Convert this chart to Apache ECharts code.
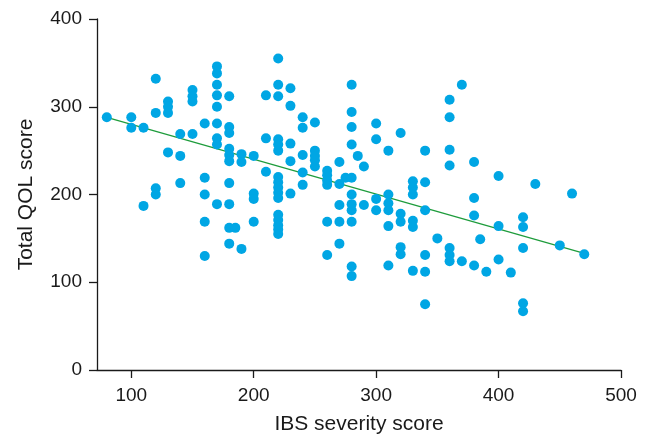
<!DOCTYPE html>
<html>
<head>
  <meta charset="utf-8">
  <title>IBS severity vs Total QOL</title>
  <script src="https://cdn.jsdelivr.net/npm/echarts@6/dist/echarts.min.js"></script>
  <style>
    html, body { margin: 0; padding: 0; background: #fff; }
    #chart { width: 649px; height: 438px; }
  </style>
</head>
<body>
<div id="chart"></div>
<script>
  // IBS severity score (x) and total QOL score (y)
  const ibsScore = [
    80,
    100, 100,
    110, 110,
    120, 120, 120, 120,
    130, 130, 130, 130,
    140, 140, 140,
    150, 150, 150, 150,
    160, 160, 160, 160, 160,
    170, 170, 170, 170, 170, 170, 170, 170, 170,
    180, 180, 180, 180, 180, 180, 180, 180, 180, 180,
    185,
    190, 190, 190,
    200, 200, 200, 200,
    210, 210, 210,
    220, 220, 220, 220, 220, 220, 220, 220, 220, 220, 220, 220, 220, 220, 220, 220,
    230, 230, 230, 230, 230,
    240, 240, 240, 240, 240,
    250, 250, 250, 250, 250,
    260, 260, 260, 260, 260, 260,
    270, 270, 270, 270, 270,
    275,
    280, 280, 280, 280, 280, 280, 280, 280, 280, 280, 280,
    285,
    290, 290,
    300, 300, 300, 300,
    310, 310, 310, 310, 310, 310,
    320, 320, 320, 320, 320,
    330, 330, 330, 330, 330, 330,
    340, 340, 340, 340, 340, 340,
    350,
    360, 360, 360, 360, 360, 360, 360,
    370, 370,
    380, 380, 380, 380,
    385,
    390,
    400, 400, 400,
    410,
    420, 420, 420, 420, 420,
    430,
    450,
    460,
    470
  ];
  const qolScore = [
    288,
    288, 276,
    276, 187,
    332, 293, 207, 200,
    306, 300, 293, 248,
    269, 244, 213,
    319, 312, 306, 269,
    281, 219, 200, 169, 130,
    346, 338, 325, 313, 300, 281, 264, 257, 189,
    312, 277, 270, 252, 245, 238, 213, 189, 162, 144,
    162,
    246, 237, 138,
    244, 201, 195, 169,
    313, 264, 226,
    355, 325, 312, 263, 257, 250, 220, 214, 208, 202, 196, 177, 171, 165, 160, 155,
    321, 301, 258, 238, 201,
    288, 276, 245, 225, 211,
    282, 250, 244, 239, 232,
    227, 222, 216, 211, 169, 131,
    237, 212, 188, 169, 144,
    219,
    325, 294, 277, 257, 219, 200, 189, 182, 169, 118, 107,
    244,
    232, 188,
    281, 263, 195, 182,
    250, 200, 190, 182, 164, 119,
    270, 178, 169, 140, 132,
    215, 208, 200, 170, 163, 113,
    250, 214, 182, 131, 112, 75,
    150,
    308, 288, 251, 233, 139, 131, 124,
    325, 124,
    237, 196, 176, 119,
    149,
    112,
    221, 164, 126,
    111,
    174, 163, 139, 76, 67,
    212,
    142,
    201,
    132
  ];
  // fitted line end points, as drawn
  const fitX = [80, 470];
  const fitY = [288, 133];
  const xTicks = [100, 200, 300, 400, 500];

  const points = ibsScore.map((v, i) => [v, qolScore[i]]);
  const fitLine = fitX.map((v, i) => [v, fitY[i]]);

  const font = 'Liberation Sans, Arial, sans-serif';
  const ink = '#1a1a1a';

  const chart = echarts.init(document.getElementById('chart'));
  chart.setOption({
    animation: false,
    grid: { left: 97, right: 28, top: 19, bottom: 68, containLabel: false, outerBoundsMode: 'none' },
    xAxis: {
      type: 'value',
      min: 72,
      max: 500,
      name: 'IBS severity score',
      nameLocation: 'middle',
      nameGap: 44,
      nameTextStyle: { fontFamily: font, fontSize: 21, color: ink },
      splitLine: { show: false },
      axisLine: { lineStyle: { color: ink, width: 1.3 } },
      axisTick: { show: true, length: 8, lineStyle: { color: ink, width: 1.3 }, customValues: xTicks },
      axisLabel: { fontFamily: font, fontSize: 19, color: ink, margin: 16, customValues: xTicks }
    },
    yAxis: {
      type: 'value',
      min: 0,
      max: 400,
      interval: 100,
      name: 'Total QOL score',
      nameLocation: 'middle',
      nameGap: 60,
      nameTextStyle: { fontFamily: font, fontSize: 21, color: ink },
      splitLine: { show: false },
      axisLine: { show: true, lineStyle: { color: ink, width: 1.3 } },
      axisTick: { show: true, length: 8, lineStyle: { color: ink, width: 1.3 } },
      axisLabel: { fontFamily: font, fontSize: 19, color: ink, margin: 15 }
    },
    series: [
      {
        type: 'line',
        data: fitLine,
        symbol: 'none',
        lineStyle: { color: '#1e9c3c', width: 1.3 },
        z: 1
      },
      {
        type: 'scatter',
        data: points,
        symbolSize: 10,
        itemStyle: { color: '#00a6e4', opacity: 1 },
        z: 2
      }
    ]
  });
</script>
</body>
</html>
